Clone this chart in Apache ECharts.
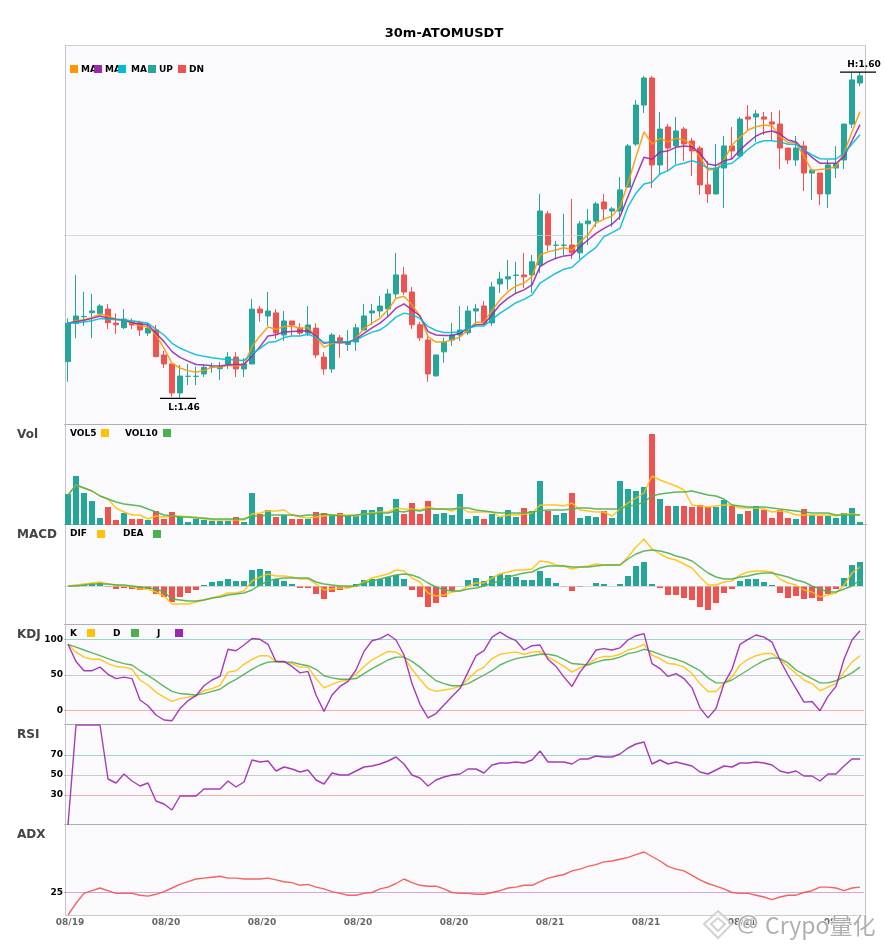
<!DOCTYPE html>
<html><head><meta charset="utf-8">
<script src="https://cdn.jsdelivr.net/npm/echarts@6/dist/echarts.min.js"></script>
<style>html,body{margin:0;padding:0;background:#fff}#c{width:885px;height:950px}</style>
</head><body><div id="c"></div>
<script>
const titleText='30m-ATOMUSDT';
const dates=[].concat(Array(12).fill('08/19'),Array(48).fill('08/20'),Array(40).fill('08/21'));
const opens=[1.4767,1.4928,1.4956,1.4973,1.4970,1.4988,1.4929,1.4910,1.4934,1.4932,
1.4887,1.4900,1.4795,1.4757,1.4635,1.4705,1.4705,1.4715,1.4744,1.4737,
1.4757,1.4786,1.4736,1.4757,1.4988,1.4959,1.4972,1.4879,1.4938,1.4908,
1.4887,1.4908,1.4786,1.4736,1.4867,1.4839,1.4850,1.4900,1.4972,1.4980,
1.4989,1.5052,1.5132,1.5060,1.4922,1.4858,1.4707,1.4808,1.4858,1.4879,
1.4888,1.4980,1.5001,1.4930,1.5094,1.5115,1.5130,1.5132,1.5132,1.5174,
1.5389,1.5257,1.5257,1.5258,1.5225,1.5347,1.5359,1.5439,1.5401,1.5401,
1.5502,1.5683,1.5847,1.5961,1.5595,1.5755,1.5675,1.5746,1.5696,1.5666,
1.5511,1.5473,1.5582,1.5675,1.5633,1.5797,1.5797,1.5797,1.5776,1.5767,
1.5666,1.5616,1.5675,1.5561,1.5561,1.5473,1.5582,1.5616,1.5767,1.5940];
const closes=[1.4928,1.4959,1.4957,1.4980,1.5001,1.4931,1.4922,1.4946,1.4921,1.4900,
1.4908,1.4788,1.4757,1.4635,1.4706,1.4705,1.4705,1.4743,1.4744,1.4743,
1.4786,1.4736,1.4757,1.4988,1.4972,1.4980,1.4887,1.4938,1.4921,1.4887,
1.4921,1.4795,1.4736,1.4879,1.4846,1.4850,1.4909,1.4959,1.4980,1.5001,
1.5052,1.5132,1.5060,1.4922,1.4867,1.4715,1.4795,1.4850,1.4879,1.4900,
1.4980,1.4989,1.4930,1.5081,1.5115,1.5124,1.5131,1.5124,1.5187,1.5401,
1.5258,1.5257,1.5257,1.5225,1.5347,1.5359,1.5431,1.5410,1.5410,1.5490,
1.5675,1.5847,1.5961,1.5595,1.5746,1.5666,1.5738,1.5683,1.5654,1.5511,
1.5473,1.5582,1.5675,1.5654,1.5788,1.5788,1.5810,1.5788,1.5767,1.5666,
1.5616,1.5666,1.5561,1.5574,1.5473,1.5595,1.5599,1.5767,1.5953,1.5970];
const lows=[1.4682,1.4865,1.4917,1.4865,1.4963,1.4904,1.4883,1.4904,1.4904,1.4875,
1.4875,1.4785,1.4740,1.4619,1.4612,1.4668,1.4668,1.4702,1.4720,1.4689,
1.4736,1.4702,1.4702,1.4757,1.4934,1.4917,1.4862,1.4854,1.4875,1.4879,
1.4875,1.4782,1.4711,1.4719,1.4783,1.4812,1.4812,1.4900,1.4922,1.4955,
1.4955,1.5035,1.5048,1.4905,1.4854,1.4682,1.4703,1.4762,1.4833,1.4854,
1.4879,1.4926,1.4922,1.4917,1.5056,1.5069,1.5052,1.5077,1.5056,1.5140,
1.5233,1.5199,1.5216,1.5199,1.5199,1.5258,1.5334,1.5363,1.5334,1.5363,
1.5498,1.5675,1.5814,1.5498,1.5553,1.5570,1.5599,1.5612,1.5548,1.5469,
1.5435,1.5469,1.5414,1.5616,1.5624,1.5742,1.5692,1.5721,1.5700,1.5578,
1.5599,1.5591,1.5485,1.5447,1.5426,1.5414,1.5540,1.5578,1.5751,1.5927];
const highs=[1.4949,1.5132,1.5061,1.5052,1.5009,1.5009,1.4970,1.4988,1.4949,1.4939,
1.4931,1.4921,1.4813,1.4757,1.4753,1.4757,1.4746,1.4755,1.4762,1.4765,
1.4807,1.4807,1.4781,1.5031,1.5001,1.5060,1.4988,1.4980,1.4938,1.4929,
1.5001,1.4929,1.4807,1.4887,1.4879,1.4900,1.4926,1.5010,1.5010,1.5044,
1.5073,1.5225,1.5166,1.5081,1.4934,1.4884,1.4795,1.4867,1.4930,1.5001,
1.5001,1.5010,1.5022,1.5102,1.5145,1.5195,1.5187,1.5225,1.5216,1.5473,
1.5401,1.5275,1.5389,1.5452,1.5359,1.5410,1.5439,1.5473,1.5418,1.5544,
1.5683,1.5869,1.5970,1.5970,1.5818,1.5767,1.5797,1.5755,1.5709,1.5675,
1.5612,1.5683,1.5717,1.5755,1.5797,1.5847,1.5826,1.5818,1.5818,1.5826,
1.5666,1.5717,1.5696,1.5574,1.5561,1.5616,1.5675,1.5767,1.5982,1.5986];
const ma5=[1.4928,1.4939,1.4943,1.4953,1.4967,1.4959,1.4945,1.4942,1.4928,1.4918,
1.4914,1.4879,1.4823,1.4760,1.4740,1.4729,1.4722,1.4730,1.4743,1.4744,
1.4750,1.4748,1.4753,1.4830,1.4875,1.4913,1.4903,1.4915,1.4917,1.4907,
1.4910,1.4872,1.4827,1.4844,1.4847,1.4847,1.4865,1.4907,1.4929,1.4949,
1.4985,1.5034,1.5042,1.5006,1.4959,1.4872,1.4849,1.4849,1.4858,1.4871,
1.4900,1.4933,1.4934,1.4982,1.5027,1.5062,1.5086,1.5097,1.5125,1.5216,
1.5229,1.5237,1.5246,1.5237,1.5272,1.5300,1.5350,1.5367,1.5380,1.5419,
1.5518,1.5630,1.5734,1.5683,1.5707,1.5692,1.5707,1.5700,1.5679,1.5627,
1.5574,1.5576,1.5616,1.5679,1.5711,1.5742,1.5756,1.5763,1.5759,1.5714,
1.5689,1.5689,1.5630,1.5571,1.5576,1.5579,1.5588,1.5644,1.5735,1.5819];
const ma10=[1.4928,1.4935,1.4941,1.4949,1.4959,1.4950,1.4945,1.4942,1.4931,1.4925,
1.4922,1.4886,1.4851,1.4809,1.4785,1.4769,1.4755,1.4753,1.4750,1.4748,
1.4754,1.4755,1.4755,1.4790,1.4830,1.4875,1.4880,1.4892,1.4894,1.4896,
1.4897,1.4875,1.4844,1.4849,1.4847,1.4847,1.4862,1.4886,1.4909,1.4929,
1.4957,1.4992,1.5010,1.4985,1.4959,1.4893,1.4879,1.4877,1.4877,1.4886,
1.4907,1.4922,1.4924,1.4964,1.5006,1.5034,1.5055,1.5069,1.5090,1.5167,
1.5188,1.5202,1.5212,1.5216,1.5251,1.5279,1.5307,1.5328,1.5346,1.5377,
1.5462,1.5546,1.5627,1.5619,1.5649,1.5654,1.5669,1.5675,1.5672,1.5644,
1.5599,1.5593,1.5612,1.5621,1.5658,1.5689,1.5717,1.5732,1.5738,1.5725,
1.5700,1.5692,1.5658,1.5627,1.5602,1.5602,1.5602,1.5630,1.5697,1.5765];
const ma20=[1.4928,1.4931,1.4934,1.4939,1.4948,1.4946,1.4943,1.4942,1.4939,1.4934,
1.4928,1.4904,1.4879,1.4844,1.4824,1.4809,1.4796,1.4789,1.4783,1.4779,
1.4776,1.4774,1.4772,1.4799,1.4823,1.4847,1.4852,1.4868,1.4875,1.4875,
1.4882,1.4869,1.4847,1.4849,1.4851,1.4851,1.4858,1.4875,1.4891,1.4900,
1.4924,1.4954,1.4971,1.4964,1.4949,1.4915,1.4898,1.4889,1.4889,1.4892,
1.4907,1.4917,1.4917,1.4943,1.4971,1.4992,1.5015,1.5029,1.5048,1.5097,
1.5118,1.5139,1.5156,1.5164,1.5195,1.5223,1.5248,1.5293,1.5310,1.5328,
1.5419,1.5476,1.5515,1.5522,1.5557,1.5571,1.5595,1.5602,1.5613,1.5602,
1.5581,1.5578,1.5596,1.5602,1.5630,1.5661,1.5686,1.5697,1.5697,1.5692,
1.5682,1.5682,1.5658,1.5637,1.5621,1.5620,1.5620,1.5644,1.5683,1.5722];
const volume=[31,49,32,24,7,18,5,12,6,6,5,14,6,13,9,3,6,5,4,4,4,8,3,32,11,15,8,10,6,6,
6,13,12,10,12,9,9,15,15,18,9,26,11,22,11,24,11,12,10,31,6,9,6,11,8,15,8,17,14,44,
14,10,12,32,7,9,8,14,7,44,36,34,38,91,26,19,19,19,18,20,18,18,25,19,11,14,19,15,7,15,
7,6,16,10,9,9,7,12,17,3];
const vol5=[30,40,37,34,29,26,17,13,10,10,6,9,8,9,9,8,8,6,5,5,5,5,5,11,12,14,14,15,10,8,
7,8,9,10,10,10,9,11,12,13,13,17,16,16,15,18,16,16,14,18,13,13,13,13,8,10,10,11,12,20,
20,20,19,22,15,14,13,13,9,16,22,27,32,49,45,42,39,35,20,19,18,19,20,20,17,17,17,16,13,14,
13,10,10,10,10,10,9,11,11,10];
const vol10=[30,40,37,34,29,26,23,21,20,19,16,13,10,9,8,8,7,7,6,6,6,6,6,9,9,10,10,10,10,9,
10,10,11,10,9,9,10,11,11,12,12,14,13,15,14,16,16,16,16,17,17,15,14,13,12,12,12,12,13,14,
15,15,15,16,17,17,16,16,16,16,19,20,23,29,31,32,33,33,34,32,30,29,26,20,19,18,18,18,17,16,
15,14,13,12,12,12,10,10,10,10];
const macdBar=[0,0.5,1,2,3,-1,-3,-2,-3,-4,-3,-8,-11,-16,-11,-7,-4,1,4,5,7,5,5,16,17,15,7,5,2,-2,
-2,-8,-13,-6,-4,-2,2,6,7,7,9,11,7,-4,-11,-21,-17,-11,-5,0,6,8,5,10,12,11,9,6,6,15,
8,3,-0.5,-5,-1,0,3,2,0,2,10,20,24,2,-2,-9,-9,-12,-14,-21,-24,-17,-7,-3,5,7,7,4,1,-7,
-12,-10,-13,-12,-15,-8,-3,8,21,24];
const dif=[0,1,2,3,4,2,1,0,-1,-3,-3,-6,-10,-18,-18,-18,-16,-14,-12,-10,-7,-7,-5,5,9,12,10,10,9,7,
7,2,-4,-3,-2,-2,0,4,8,10,12,16,15,8,4,-7,-10,-9,-6,-5,0,3,3,8,12,14,16,16,17,25,
24,21,20,17,19,20,22,21,21,21,29,39,47,37,32,28,26,22,18,9,1,1,4,5,11,14,15,15,14,7,
3,1,-4,-6,-11,-9,-7,1,13,19];
const dea=[0,0,1,2,2,2,1,1,0,-1,-2,-3,-6,-13,-14,-15,-15,-14,-12,-11,-9,-8,-7,-4,1,5,7,8,8,8,
8,4,2,1,0,0,0,3,5,7,9,11,12,11,8,3,-1,-4,-5,-5,-3,-2,0,3,5,9,11,13,14,18,
20,20,20,19,19,19,20,21,21,21,27,32,35,36,35,33,30,28,25,19,13,9,7,7,9,10,12,13,13,11,
9,6,4,0,-3,-6,-6,-3,0,6];
const kLine=[93,82,75,72,72,66,62,61,58,43,36,26,19,13,17,19,21,28,31,35,54,56,65,72,77,77,69,68,66,61,
61,45,32,37,41,43,51,62,71,77,83,82,75,58,44,31,27,29,31,34,44,55,61,73,79,81,82,79,82,83,
75,69,62,54,60,65,73,76,76,79,85,88,93,78,73,66,65,61,52,38,27,27,38,47,64,72,77,80,80,72,
62,52,43,38,28,33,38,54,68,77];
const dLine=[93,89,85,81,77,73,69,66,64,56,49,42,34,27,24,23,22,24,27,30,38,44,51,58,64,68,69,68,68,65,
63,58,49,46,44,44,45,52,59,65,71,75,75,69,61,51,42,38,35,35,38,44,50,56,64,69,73,75,77,79,
79,77,72,66,65,64,68,71,72,75,80,82,86,83,79,75,72,68,62,56,46,39,39,43,50,57,64,70,74,73,
67,57,51,45,39,39,42,47,53,61];
const jLine=[93,69,56,56,61,51,45,47,45,15,7,-6,-13,-14,3,14,21,35,43,48,86,84,92,101,100,93,69,69,62,53,
55,22,-1,22,34,41,57,83,98,101,107,99,78,38,9,-10,-4,8,20,31,54,77,84,103,110,103,98,85,91,92,
72,62,47,34,54,68,85,87,85,88,99,105,108,66,59,48,52,45,32,4,-10,3,38,58,93,100,106,103,96,71,
50,31,12,13,0,20,34,72,99,112];
const rsi=[0,100,100,100,100,46,42,51,44,39,42,24,21,15,29,29,29,36,36,36,44,38,43,65,63,64,54,58,56,53,
55,45,41,52,50,50,54,58,59,61,64,68,61,50,47,39,45,48,50,51,56,56,52,60,62,62,63,62,65,74,
63,63,63,61,66,66,69,68,68,71,77,81,83,61,65,61,63,61,59,53,51,55,59,58,62,62,63,62,60,54,
52,54,49,49,44,51,51,59,66,66];
const adx=[0,13,24,27,30,27,24,24,24,22,21,23,26,30,34,37,40,41,42,43,41,41,40,40,40,41,39,37,36,33,
34,31,29,26,24,22,22,24,25,29,31,35,40,36,33,32,32,29,25,24,24,23,23,25,27,30,31,33,33,37,
41,43,45,49,51,54,56,59,60,62,64,67,70,65,60,54,51,49,44,39,35,32,29,25,24,24,22,20,17,20,
22,22,25,27,31,31,30,27,30,31];
const kdjLevels=[0,50,100];
const rsiLevels=[30,50,70];
const adxLevels=[25];

const UP='#26a69a',DN='#ef5350',C_MA5='#ff9800',C_MA10='#9c27b0',C_MA20='#00bcd4',YEL='#ffc107',GRN='#4caf50',PUR='#9c27b0';
const FONT='"DejaVu Sans"';
const L=64,W=800;
const panels=[[45,380],[425,100],[525,100],[625,100],[725,100],[825,90]];
const grid=panels.map(p=>({left:L,width:W,top:p[0],height:p[1],show:false}));
const xAxis=panels.map((p,i)=>({type:'category',gridIndex:i,data:dates,boundaryGap:true,
  axisLine:{show:false},axisTick:{show:false},splitLine:{show:false},
  axisLabel:i===5?{show:true,interval:11,color:'#666',fontFamily:FONT,fontWeight:'bold',fontSize:9,margin:3,padding:[0,0,0,4]}:{show:false}}));
const yLabel=v=>({show:true,customValues:v,color:'#000',fontFamily:FONT,fontWeight:'bold',fontSize:9,margin:1});
const yBase={type:'value',axisLine:{show:false},axisTick:{show:false},splitLine:{show:false}};
const yAxis=[
 {...yBase,gridIndex:0,min:1.45,max:1.61,axisLabel:{show:false}},
 {...yBase,gridIndex:1,min:0,max:100,axisLabel:{show:false}},
 {...yBase,gridIndex:2,min:-39,max:61,axisLabel:{show:false}},
 {...yBase,gridIndex:3,min:-20,max:120,axisLabel:yLabel(kdjLevels)},
 {...yBase,gridIndex:4,min:0,max:100,axisLabel:yLabel(rsiLevels)},
 {...yBase,gridIndex:5,min:0,max:100,axisLabel:yLabel(adxLevels)}];
function line(name,data,idx,color,width,extra){return Object.assign({type:'line',name,data,xAxisIndex:idx,yAxisIndex:idx,
  showSymbol:false,symbol:'none',smooth:false,lineStyle:{color,width,opacity:0.9},itemStyle:{color},z:5,silent:true},extra||{});}
const hl=(y,color)=>({yAxis:y,lineStyle:{color,width:1,type:'solid'}});
const mk=arr=>({silent:true,symbol:'none',label:{show:false},animation:false,data:arr});
const candle=opens.map((o,i)=>[o,closes[i],lows[i],highs[i]]);
const hiIdx=highs.indexOf(Math.max(...highs)),loIdx=lows.indexOf(Math.min(...lows));
function extreme(name,idx,val,text,textDy){return {type:'custom',name,xAxisIndex:0,yAxisIndex:0,z:6,silent:true,
  data:[[idx,val]],encode:{x:0,y:1},renderItem:(p,api)=>{const c=api.coord([api.value(0),api.value(1)]);
   return {type:'group',children:[
    {type:'line',shape:{x1:c[0]-20,y1:c[1],x2:c[0]+16,y2:c[1]},style:{stroke:'#000',lineWidth:1.2}},
    {type:'text',style:{x:c[0]+4,y:c[1]+textDy,text,fill:'#000',font:'bold 9px '+FONT,textAlign:'center',textVerticalAlign:'middle'}}]};}};}
const series=[
 {type:'candlestick',name:'K',data:candle,xAxisIndex:0,yAxisIndex:0,barWidth:5,z:3,silent:true,
  itemStyle:{color:UP,color0:DN,borderColor:UP,borderColor0:DN,borderColorDoji:UP,borderWidth:1},
  markLine:mk([hl(1.53,'rgba(200,200,212,0.7)')])},
 line('MA5',ma5,0,C_MA5,1.5),line('MA10',ma10,0,C_MA10,1.5),line('MA20',ma20,0,C_MA20,1.5),
 extreme('High',hiIdx,highs[hiIdx],'H:'+highs[hiIdx].toFixed(2),-7),
 extreme('Low',loIdx,lows[loIdx],'L:'+lows[loIdx].toFixed(2),9),
 {type:'bar',name:'Volume',xAxisIndex:1,yAxisIndex:1,barWidth:6,silent:true,
  data:volume.map((v,i)=>({value:v,itemStyle:{color:closes[i]>=opens[i]?UP:DN}}))},
 line('VOL5',vol5,1,YEL,1.4),line('VOL10',vol10,1,GRN,1.4),
 {type:'bar',name:'MACD',xAxisIndex:2,yAxisIndex:2,barWidth:6,silent:true,
  data:macdBar.map(v=>({value:v,itemStyle:{color:v>=0?UP:DN}})),
  markLine:mk([hl(0,'rgba(200,200,200,0.7)')])},
 line('DIF',dif,2,YEL,1.4),line('DEA',dea,2,GRN,1.4),
 line('K',kLine,3,YEL,1.4,{markLine:mk([hl(100,'rgba(38,166,154,0.45)'),hl(50,'rgba(160,160,160,0.55)'),hl(0,'rgba(239,83,80,0.45)')])}),
 line('D',dLine,3,GRN,1.4),line('J',jLine,3,PUR,1.4),
 line('RSI',rsi,4,PUR,1.4,{markLine:mk([hl(70,'rgba(38,166,154,0.45)'),hl(50,'rgba(160,160,160,0.55)'),hl(30,'rgba(239,83,80,0.45)')])}),
 line('ADX',adx,5,DN,1.4,{markLine:mk([hl(25,'rgba(156,39,176,0.4)')])})
];
// frame, titles and legends
const g=[];
g.push({type:'rect',z:-1,silent:true,shape:{x:65,y:45,width:800,height:870},style:{fill:'#fafafc'}});
const hlineG=(y,c,x1,x2)=>g.push({type:'line',z:1,silent:true,shape:{x1:x1,y1:y+0.5,x2:x2,y2:y+0.5},style:{stroke:c,lineWidth:1}});
hlineG(45,'#ccccd4',65,865);
[424,524,624,724,824].forEach(y=>hlineG(y,'#aeaeb4',64,867));
hlineG(915,'#ccccd4',65,865);
g.push({type:'line',z:1,silent:true,shape:{x1:65.5,y1:45,x2:65.5,y2:915},style:{stroke:'#c4c4cc',lineWidth:1}});
g.push({type:'line',z:1,silent:true,shape:{x1:865.5,y1:45,x2:865.5,y2:915},style:{stroke:'#c4c4cc',lineWidth:1}});
const T=(x,y,text,font,fill,align,z,extra)=>g.push({type:'text',z:z||10,silent:true,x:x,y:y,style:Object.assign({text,font,fill,textAlign:align||'left',textVerticalAlign:'middle'},extra||{})});
const S=(x,y,c)=>g.push({type:'rect',z:11,silent:true,shape:{x:x,y:y,width:8,height:8},style:{fill:c}});
T(444,34,titleText,'bold 13px '+FONT,'#000','center');
const LEG='bold 9px '+FONT;
[[70,81,C_MA5,'MA'],[94,105,C_MA10,'MA'],[118,131,C_MA20,'MA'],[148,159,UP,'UP'],[178,189,DN,'DN']].forEach(a=>{S(a[0],65,a[2]);T(a[1],69.5,a[3],LEG,'#000');});
[[70,'VOL5',101,YEL],[125,'VOL10',163,GRN]].forEach(a=>{T(a[0],433.5,a[1],LEG,'#000');S(a[2],429,a[3]);});
[[70,'DIF',97,YEL],[123,'DEA',153,GRN]].forEach(a=>{T(a[0],534,a[1],LEG,'#000');S(a[2],530,a[3]);});
[[70,'K',87,YEL],[113,'D',131,GRN],[157,'J',175,PUR]].forEach(a=>{T(a[0],633.5,a[1],LEG,'#000');S(a[2],629,a[3]);});
[['Vol',435],['MACD',535],['KDJ',635],['RSI',735],['ADX',835]].forEach(a=>T(17,a[1],a[0],'bold 12px '+FONT,'#444'));
// watermark
g.push({type:'polygon',z:20,silent:true,shape:{points:[[718,911],[732,924],[718,938],[704,924]]},style:{fill:'rgba(255,255,255,0.5)',stroke:'rgba(205,205,205,0.9)',lineWidth:2}});
g.push({type:'polygon',z:20,silent:true,shape:{points:[[718,918],[725,924],[718,931],[711,924]]},style:{fill:'rgba(255,255,255,0.5)',stroke:'rgba(205,205,205,0.9)',lineWidth:2}});
T(737,925,'@','24px "Noto Sans"','rgba(150,150,150,0.75)','left',20,{stroke:'rgba(255,255,255,0.8)',lineWidth:2});
T(765,925,'Crypo量化','23px "Noto Sans CJK SC"','rgba(150,150,150,0.75)','left',20,{stroke:'rgba(255,255,255,0.8)',lineWidth:2});
const chart=echarts.init(document.getElementById('c'),null,{renderer:'canvas'});
chart.setOption({animation:false,backgroundColor:'#fff',grid,xAxis,yAxis,series,graphic:{elements:g}});
</script></body></html>
